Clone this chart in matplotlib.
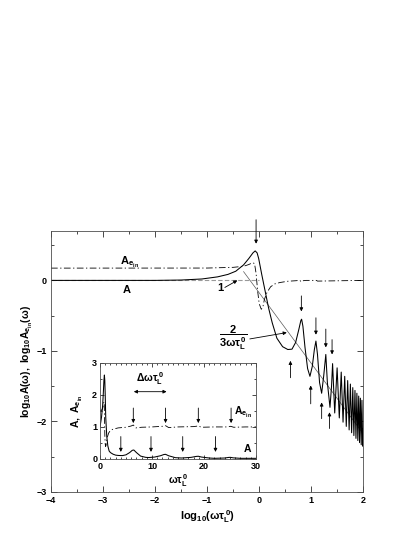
import matplotlib
matplotlib.use("Agg")
import matplotlib.pyplot as plt
import numpy as np

plt.rcParams['font.family'] = ['Liberation Sans', 'DejaVu Sans']
plt.rcParams['font.weight'] = 'bold'
plt.rcParams['mathtext.fontset'] = 'custom'
plt.rcParams['mathtext.rm'] = 'Liberation Sans:bold'
plt.rcParams['mathtext.it'] = 'Liberation Sans:bold'
plt.rcParams['mathtext.bf'] = 'Liberation Sans:bold'
plt.rcParams['mathtext.default'] = 'rm'

# main panel: log10(omega tau) vs log10 A (solid) and log10 A_ein (dash-dot)
logw_A = [-4.0, -2.0, -1.5, -1.1, -0.8, -0.6, -0.45, -0.3, -0.2, -0.12, -0.077,
          -0.04, -0.01, 0.05, 0.115, 0.18, 0.25, 0.34, 0.45, 0.55, 0.63, 0.7,
          0.76, 0.8, 0.815, 0.84, 0.88, 0.93, 0.975, 1.02, 1.06, 1.09, 1.12,
          1.16, 1.2, 1.24, 1.28, 1.31, 1.36, 1.39, 1.41, 1.451, 1.497, 1.539,
          1.576, 1.611, 1.643, 1.673, 1.70, 1.728, 1.752, 1.776, 1.798, 1.819,
          1.84, 1.859, 1.877, 1.895, 1.912, 1.928, 1.944, 1.96, 1.974, 1.989, 2.0]
logA = [0.0, 0.0, 0.005, 0.02, 0.05, 0.085, 0.13, 0.22, 0.31, 0.39, 0.418,
        0.39, 0.31, 0.08, -0.155, -0.39, -0.6, -0.82, -0.94, -0.98, -0.975, -0.88,
        -0.7, -0.57, -0.55, -0.65, -0.95, -1.25, -1.36, -1.22, -0.98, -0.86, -1.05,
        -1.45, -1.6, -1.35, -1.05, -1.45, -1.8, -1.5, -1.18, -1.88, -1.24, -1.95,
        -1.3, -2.01, -1.36, -2.07, -1.42, -2.12, -1.47, -2.16, -1.52, -2.2,
        -1.56, -2.24, -1.6, -2.27, -1.64, -2.3, -1.67, -2.33, -1.7, -2.35, -2.1]

logw_E = [-4.0, -1.0, -0.5, -0.3, -0.2, -0.13, -0.09, -0.06, -0.03, 0.0, 0.04,
          0.07, 0.1, 0.15, 0.22, 0.3, 0.4, 0.55, 0.7, 0.78, 0.81, 0.84, 0.9,
          1.1, 1.12, 2.0]
logE = [0.174, 0.175, 0.185, 0.2, 0.225, 0.25, 0.24, 0.1, -0.15, -0.33, -0.41,
        -0.38, -0.27, -0.17, -0.09, -0.05, -0.03, -0.012, -0.005, 0.0, -0.02,
        -0.005, 0.0, 0.0, -0.01, 0.0]

# 2/(3 omega tau) guide line
guide_x = [-0.3, 2.0]
guide_y = [0.124, -2.176]

# arrows in main panel: x, y_start, y_end
down_x = [-0.06, 0.81, 1.09, 1.28, 1.40]
down_y0 = [0.86, -0.22, -0.53, -0.69, -0.84]
down_y1 = [0.52, -0.44, -0.77, -0.95, -1.05]
up_x = [0.60, 0.99, 1.20, 1.35]
up_y0 = [-1.38, -1.75, -1.96, -2.10]
up_y1 = [-1.14, -1.49, -1.73, -1.87]

# inset: linear omega tau vs A and A_ein
w_A = [0, 0.3, 0.5, 0.63, 0.75, 0.84, 0.92, 1.0, 1.1, 1.3, 1.5, 1.75, 2.0, 2.5,
       3.0, 3.5, 4.3, 5.0, 5.7, 6.2, 6.5, 7.0, 7.8, 8.8, 9.4, 10.5, 11.6,
       12.3, 12.6, 13.2, 14.5, 15.7, 17.5, 18.5, 18.9, 19.5, 21, 22, 24, 24.8,
       25.1, 25.6, 27, 28.5, 30]
A_lin = [1.0, 1.32, 1.66, 2.04, 2.45, 2.62, 2.45, 2.0, 1.3, 0.7, 0.41, 0.25,
         0.2, 0.15, 0.12, 0.11, 0.105, 0.13, 0.2, 0.27, 0.28, 0.2, 0.09, 0.05,
         0.045, 0.06, 0.1, 0.14, 0.145, 0.1, 0.04, 0.03, 0.05, 0.08, 0.085,
         0.06, 0.03, 0.02, 0.03, 0.05, 0.05, 0.035, 0.02, 0.02, 0.02]
w_E = [0, 0.3, 0.5, 0.63, 0.74, 0.81, 0.87, 0.93, 1.0, 1.07, 1.15, 1.26, 1.41,
       1.66, 2.0, 2.5, 3.5, 5, 6.0, 6.4, 6.9, 8, 10, 12, 12.6, 13.2, 15, 18,
       18.9, 19.5, 22, 24.5, 25.1, 25.7, 28, 30]
E_lin = [1.49, 1.52, 1.58, 1.68, 1.78, 1.74, 1.26, 0.71, 0.47, 0.39, 0.42,
         0.54, 0.68, 0.81, 0.89, 0.93, 0.97, 0.99, 1.03, 1.06, 0.97, 0.99, 1.0,
         1.02, 1.04, 0.98, 1.0, 1.01, 1.03, 0.99, 1.0, 1.0, 1.02, 0.99, 1.0, 1.0]

ins_upper_x = [6.4, 12.6, 18.9, 25.2]
ins_lower_x = [4.0, 9.8, 15.9, 22.2]

fig = plt.figure(figsize=(4.15, 5.37), dpi=100)
ax = fig.add_axes([0.1229, 0.0838, 0.7525, 0.486])

ax.plot([-4, 0], [0, 0], color='0.6', lw=0.8, ls=(0, (4, 2)))
ax.plot(guide_x, guide_y, color='0.35', lw=0.5)
ax.plot(logw_E, logE, color='black', lw=0.6, ls=(0, (8, 3, 1.5, 3)))
ax.plot(logw_A, logA, color='black', lw=0.75)

ax.set_xlim(-4, 2)
ax.set_ylim(-3, 0.7)
ax.set_xticks(np.arange(-4, 2.1, 1))
ax.set_yticks(np.arange(-3, 0.1, 1))
ax.set_xticks(np.arange(-4, 2.1, 0.5), minor=True)
ax.set_yticks(np.arange(-3, 0.71, 0.5), minor=True)
ax.tick_params(which='both', direction='in', top=True, right=True, width=0.5,
               labelsize=6.5, pad=3)
ax.tick_params(which='major', length=4)
ax.tick_params(which='minor', length=2.5)
for sp in ax.spines.values():
    sp.set_linewidth(0.6)
    sp.set_color('0.3')
ax.set_xlabel(r'$log_{10}(\omega\tau_L^{\,0})$', fontsize=8, labelpad=2)
ax.set_ylabel(r'$log_{10}A(\omega),\ log_{10}A_{e_{in}}(\omega)$', fontsize=7.5,
              labelpad=1)

arrow = dict(arrowstyle='-|>', color='black', lw=0.6, mutation_scale=5,
             shrinkA=0, shrinkB=0)
for x, y0, y1 in zip(down_x, down_y0, down_y1):
    ax.annotate('', xy=(x, y1), xytext=(x, y0), arrowprops=arrow,
                annotation_clip=False)
for x, y0, y1 in zip(up_x, up_y0, up_y1):
    ax.annotate('', xy=(x, y1), xytext=(x, y0), arrowprops=arrow)

ax.text(-2.5, 0.26, r'$A_{e_{in}}$', fontsize=8, ha='center', va='center')
ax.text(-2.55, -0.14, 'A', fontsize=8, ha='center', va='center')
ax.text(-0.75, -0.11, '1', fontsize=8, ha='center', va='center')
ax.annotate('', xy=(-0.42, 0.0), xytext=(-0.66, -0.1), arrowprops=arrow)
ax.text(-0.49, -0.82, r'$\dfrac{2}{3\omega\tau_L^{\,0}}$', fontsize=8,
        ha='center', va='center')
ax.annotate('', xy=(0.53, -0.74), xytext=(-0.18, -0.83), arrowprops=arrow)

# inset
ins = fig.add_axes([0.241, 0.1453, 0.376, 0.179])
ins.plot(w_E, E_lin, color='black', lw=0.6, ls=(0, (8, 3, 1.5, 3)))
ins.plot(w_A, A_lin, color='black', lw=0.75)
ins.set_xlim(0, 30)
ins.set_ylim(0, 3)
ins.set_xticks([0, 10, 20, 30])
ins.set_yticks([0, 1, 2, 3])
ins.set_xticks(np.arange(0, 30.1, 1), minor=True)
ins.set_yticks(np.arange(0, 3.01, 0.5), minor=True)
ins.tick_params(which='both', direction='in', top=True, right=True, width=0.5,
                labelsize=6.5, pad=2)
ins.tick_params(which='major', length=3)
ins.tick_params(which='minor', length=1.5)
for sp in ins.spines.values():
    sp.set_linewidth(0.6)
    sp.set_color('0.3')
ins.set_xlabel(r'$\omega\tau_L^{\,0}$', fontsize=7.5, labelpad=1)
ins.set_ylabel(r'$A,\ A_{e_{in}}$', fontsize=7.5, labelpad=5)

for x in ins_upper_x:
    ins.annotate('', xy=(x, 1.12), xytext=(x, 1.59), arrowprops=arrow)
for x in ins_lower_x:
    ins.annotate('', xy=(x, 0.22), xytext=(x, 0.7), arrowprops=arrow)
ins.annotate('', xy=(12.8, 2.1), xytext=(6.5, 2.1),
             arrowprops=dict(arrowstyle='<|-|>', color='black', lw=0.6,
                             mutation_scale=5, shrinkA=0, shrinkB=0))
ins.text(9.6, 2.5, r'$\Delta\omega\tau_L^{\,0}$', fontsize=7.5,
         ha='center', va='center')
ins.text(27.4, 1.45, r'$A_{e_{in}}$', fontsize=7.5, ha='center', va='center')
ins.text(28.3, 0.3, 'A', fontsize=7.5, ha='center', va='center')

fig.savefig('out.png', dpi=100)
